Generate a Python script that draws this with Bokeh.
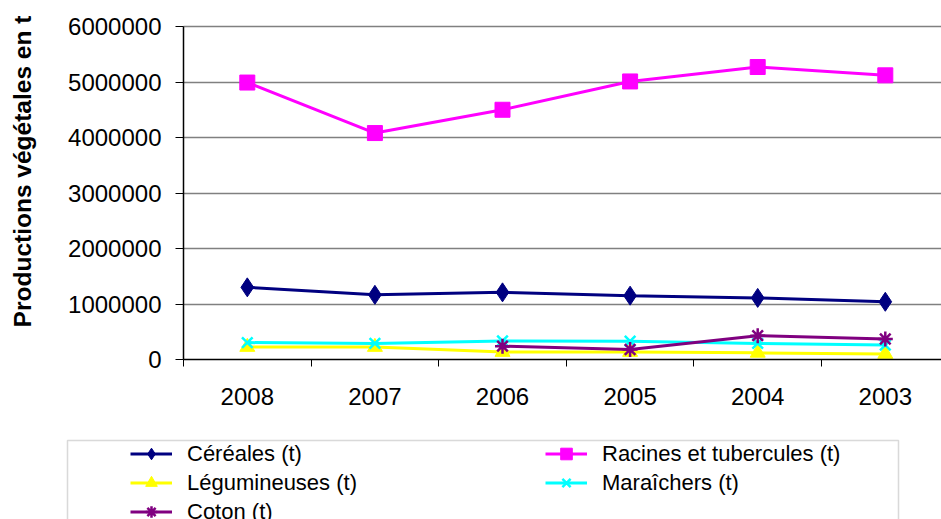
import math
from bokeh.plotting import figure
from bokeh.models import (FixedTicker, NumeralTickFormatter, Range1d, Legend, LegendItem,
                          BoxAnnotation, Label, Grid)
from bokeh.embed import file_html
from bokeh.resources import INLINE

years = ["2008", "2007", "2006", "2005", "2004", "2003"]
cereales = [1300000, 1165000, 1210000, 1150000, 1110000, 1040000]
racines = [4990000, 4080000, 4500000, 5010000, 5270000, 5120000]
legumineuses = [225000, 225000, 135000, 135000, 120000, 100000]
maraichers = [305000, 290000, 335000, 330000, 290000, 260000]
coton = [float("nan"), float("nan"), 240000, 180000, 430000, 370000]
y_ticks = [0, 1000000, 2000000, 3000000, 4000000, 5000000, 6000000]

FONT = "Liberation Sans"
x = list(range(len(years)))

# page geometry (pixels): the plot area sits inside a full-canvas frame
W, H = 941, 519
PLOT_L, PLOT_T, PLOT_B = 183, 26, 359
CAT_W = 127.6
x_start = -0.5 - PLOT_L / CAT_W
x_end = x_start + W / CAT_W
y_max = y_ticks[-1]
per_px = y_max / (PLOT_B - PLOT_T)
y_start = -(H - PLOT_B) * per_px
y_end = y_max + PLOT_T * per_px

p = figure(width=W, height=H, output_backend="svg", toolbar_location=None,
           x_range=Range1d(x_start, x_end), y_range=Range1d(y_start, y_end),
           min_border=0)
p.outline_line_color = None

# x axis fixed at y=0
p.xaxis.fixed_location = 0
p.xaxis.bounds = (-0.5, x_end)
p.xaxis.ticker = FixedTicker(ticks=x, minor_ticks=[i - 0.5 for i in range(len(years) + 1)])
p.xaxis.major_label_overrides = {i: y for i, y in enumerate(years)}
p.xaxis.major_tick_out = 0
p.xaxis.major_tick_in = 0
p.xaxis.minor_tick_out = 7
p.xaxis.minor_tick_in = 0
p.xaxis.minor_tick_line_color = "black"
p.xaxis.axis_line_color = "black"
p.xaxis.axis_line_width = 1.5
p.xaxis.major_label_text_font = FONT
p.xaxis.major_label_text_font_size = "24px"
p.xaxis.major_label_text_color = "black"
p.xaxis.major_label_standoff = 21

# y axis fixed at the left category boundary
p.yaxis.fixed_location = -0.5
p.yaxis.bounds = (0, y_max)
p.yaxis.ticker = FixedTicker(ticks=y_ticks)
p.yaxis.formatter = NumeralTickFormatter(format="0")
p.yaxis.major_tick_out = 8
p.yaxis.major_tick_in = 0
p.yaxis.minor_tick_line_color = None
p.yaxis.axis_line_color = "black"
p.yaxis.axis_line_width = 1.5
p.yaxis.major_label_text_font = FONT
p.yaxis.major_label_text_font_size = "24px"
p.yaxis.major_label_text_color = "black"
p.yaxis.major_label_standoff = 14

p.xgrid.visible = False
if "cross_bounds" in Grid.properties():
    p.ygrid.ticker = FixedTicker(ticks=y_ticks[1:])
    p.ygrid.cross_bounds = (-0.5, x_end)
    p.ygrid.grid_line_color = "#808080"
    p.ygrid.grid_line_width = 1.5
else:
    p.ygrid.visible = False
    gy = y_ticks[1:]
    p.segment(x0=[-0.5] * len(gy), x1=[x_end] * len(gy), y0=gy, y1=gy,
              line_color="#808080", line_width=1.5)

series = [
    ("Céréales (t)", cereales, "#000080", "diamond", 19),
    ("Racines et tubercules (t)", racines, "#FF00FF", "square", 15),
    ("Légumineuses (t)", legumineuses, "#FFFF00", "triangle", 15),
    ("Maraîchers (t)", maraichers, "#00FFFF", "x", 15),
    ("Coton (t)", coton, "#800080", "asterisk", 15),
]

items = {}
for name, vals, color, marker, size in series:
    r1 = p.line(x, vals, line_color=color, line_width=3)
    if marker in ("x", "asterisk"):
        r2 = p.scatter(x, vals, marker=marker, size=size, line_color=color, line_width=2.5)
    else:
        r2 = p.scatter(x, vals, marker=marker, size=size,
                       fill_color=color, line_color=color)
    items[name] = LegendItem(label=name, renderers=[r1, r2])

box = BoxAnnotation(left=67, right=898, top=440, bottom=H + 20,
                    left_units="canvas", right_units="canvas",
                    top_units="canvas", bottom_units="canvas",
                    fill_alpha=0, line_color="#808080", line_width=1.5)
p.add_layout(box)

common = dict(glyph_width=42, glyph_height=29, label_height=29, label_standoff=15,
              spacing=0, padding=0, margin=0, border_line_color=None,
              background_fill_alpha=0, label_text_font=FONT,
              label_text_font_size="22px", label_text_color="black")
leg1 = Legend(items=[items["Céréales (t)"], items["Légumineuses (t)"], items["Coton (t)"]],
              location=(130, -7), **common)
leg2 = Legend(items=[items["Racines et tubercules (t)"], items["Maraîchers (t)"]],
              location=(545, 22), **common)
p.add_layout(leg1, "center")
p.add_layout(leg2, "center")

ytitle = Label(x=22, y=H - 171, x_units="screen", y_units="screen",
               text="Productions végétales en t", angle=math.pi / 2,
               text_align="center", text_baseline="middle",
               text_font=FONT, text_font_size="24.5px", text_font_style="bold",
               text_color="black")
p.add_layout(ytitle)

open("out.html", "w").write(file_html(p, INLINE))
